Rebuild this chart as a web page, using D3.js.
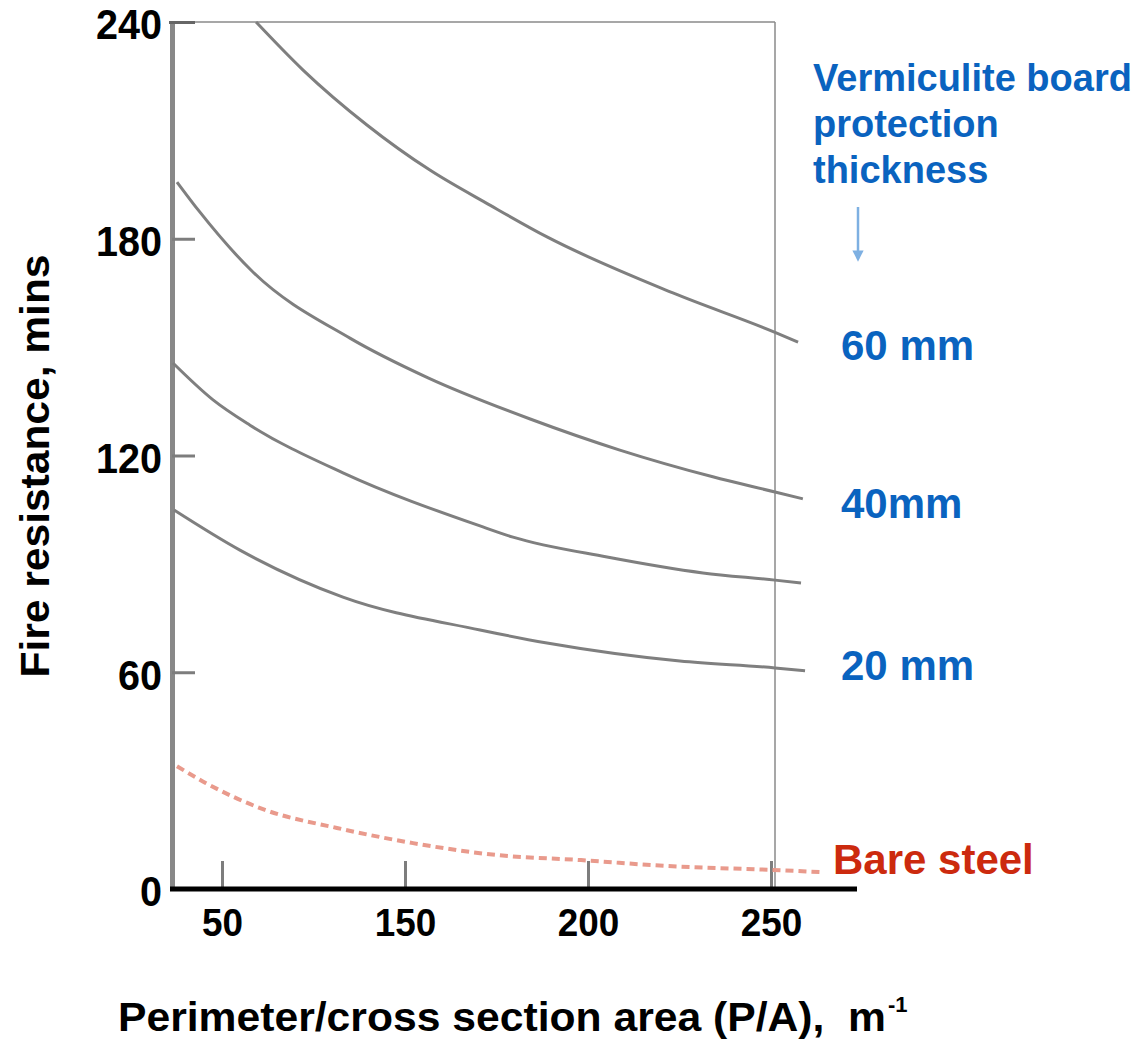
<!DOCTYPE html>
<html>
<head>
<meta charset="utf-8">
<script src="https://cdn.jsdelivr.net/npm/d3@7"></script>
<style>
  body { margin: 0; background: #fff; }
  svg text { font-family: "Liberation Sans", Arial, Helvetica, sans-serif; font-weight: bold; }
</style>
</head>
<body>
<svg id="chart" width="1147" height="1040"></svg>
<script>
// ---------------- data ----------------
// x is P/A (m-1) as labelled on the axis, y is fire resistance (mins)
var xTicks = [50, 150, 200, 250]
var yTicks = [0, 60, 120, 180, 240]

var board60 = [[68.6,240.0],[94.3,226.7],[129.2,211.5],[156.8,199.0],[173.2,189.3],[188.8,180.5],[223.2,165.0],[251.1,154.1],[257.4,151.4]]
var board40 = [[25.4,195.7],[37.4,187.7],[66.9,170.8],[119.9,152.5],[156.3,141.5],[184.2,130.1],[208.7,121.5],[234.1,114.1],[251.1,109.9],[258.7,108.0]]
var board30 = [[23.2,145.6],[45.1,135.4],[65.3,128.4],[116.1,115.2],[170.5,100.5],[179.5,97.4],[205.2,91.9],[231.4,87.5],[251.1,85.5],[258.2,84.7]]
var board20 = [[23.8,104.9],[59.8,93.8],[116.1,80.8],[170.5,71.7],[188.8,68.1],[225.1,63.1],[251.1,61.2],[259.3,60.4]]
var bareSteel = [[25.4,34.0],[41.3,29.3],[73.5,21.9],[112.8,16.9],[152.2,12.7],[175.1,9.4],[198.1,8.0],[221.0,6.4],[249.7,5.3],[263.4,4.7]]

var curves = [board60, board40, board30, board20]

// ---------------- chart ----------------
var svg = d3.select("#chart")

// the printed axis is not evenly spaced (50,150,200,250 at equal steps)
var x = d3.scaleLinear().domain(xTicks).range([222, 405, 588, 771])
var y = d3.scaleLinear().domain([0, 240]).range([889, 22])

// frame: top and right thin lines
svg.append("line")
    .attr("x1", 172).attr("x2", 775)
    .attr("y1", y(240)).attr("y2", y(240))
    .attr("stroke", "#8a8a8a").attr("stroke-width", 1.5)
svg.append("line")
    .attr("x1", 775).attr("x2", 775)
    .attr("y1", y(240)).attr("y2", y(0))
    .attr("stroke", "#8a8a8a").attr("stroke-width", 1.5)

// y axis
var yAxis = svg.append("g")
    .attr("transform", "translate(172,0)")
    .call(d3.axisLeft(y).tickValues(yTicks).tickSizeInner(-23).tickSizeOuter(0).tickPadding(10))
yAxis.select(".domain").attr("stroke", "#888").attr("stroke-width", 5)
yAxis.selectAll(".tick line").attr("stroke", "#7d7d7d").attr("stroke-width", 3)
    .filter(function(d){ return d == 0 }).remove()
yAxis.selectAll(".tick line").filter(function(d){ return d == 240 }).attr("stroke", "#666").attr("x1", -3)
yAxis.selectAll(".tick text")
    .attr("fill", "#000")
    .attr("dy", "0.4em")
    .attr("textLength", function(d){ return String(d).length * 22 })
    .attr("lengthAdjust", "spacingAndGlyphs")
    .style("font-size", "42px")

// x axis
var xAxis = svg.append("g")
    .attr("transform", "translate(0," + y(0) + ")")
    .call(d3.axisBottom(x).tickValues(xTicks).tickSizeInner(-28).tickSizeOuter(0).tickPadding(19))
xAxis.select(".domain").remove()
xAxis.selectAll(".tick line").attr("stroke", "#7d7d7d").attr("stroke-width", 3)
xAxis.selectAll(".tick text")
    .attr("fill", "#000")
    .attr("textLength", function(d){ return String(d).length * 20.5 })
    .attr("lengthAdjust", "spacingAndGlyphs")
    .style("font-size", "39px")
xAxis.append("line")
    .attr("x1", 170).attr("x2", 857)
    .attr("y1", 0).attr("y2", 0)
    .attr("stroke", "#000").attr("stroke-width", 5)

// curves
var line = d3.line()
    .x(function(d){ return x(d[0]) })
    .y(function(d){ return y(d[1]) })
    .curve(d3.curveMonotoneX)

svg.selectAll(".curve")
    .data(curves)
    .enter()
    .append("path")
    .attr("class", "curve")
    .attr("d", line)
    .attr("fill", "none")
    .attr("stroke", "#7f7f7f")
    .attr("stroke-width", 3)

svg.append("path")
    .datum(bareSteel)
    .attr("d", line)
    .attr("fill", "none")
    .attr("stroke", "#e99a8c")
    .attr("stroke-width", 4)
    .attr("stroke-dasharray", "8,5")

// labels
var blue = "#0a63bf"
var legendLines = ["Vermiculite board", "protection", "thickness"]
svg.selectAll(".leg")
    .data(legendLines)
    .enter()
    .append("text")
    .attr("class", "leg")
    .attr("x", 813)
    .attr("y", function(d, i){ return 91 + i * 46 })
    .attr("fill", blue)
    .style("font-size", "38px")
    .text(function(d){ return d })

// arrow
var defs = svg.append("defs")
defs.append("marker")
    .attr("id", "arrowhead")
    .attr("viewBox", "0 0 10 10")
    .attr("refX", 5).attr("refY", 5)
    .attr("markerWidth", 4.5).attr("markerHeight", 4.5)
    .attr("orient", "auto")
    .append("path")
    .attr("d", "M0,0 L10,5 L0,10 Z")
    .attr("fill", "#7eb0e2")
svg.append("line")
    .attr("x1", 858).attr("x2", 858)
    .attr("y1", 207).attr("y2", 256)
    .attr("stroke", "#7eb0e2").attr("stroke-width", 2.5)
    .attr("marker-end", "url(#arrowhead)")

var seriesNames = ["60 mm", "40mm", "20 mm"]
var seriesY = [360, 518, 680]
svg.selectAll(".sname")
    .data(seriesNames)
    .enter()
    .append("text")
    .attr("class", "sname")
    .attr("x", 841)
    .attr("y", function(d, i){ return seriesY[i] })
    .attr("fill", blue)
    .style("font-size", "42px")
    .text(function(d){ return d })

svg.append("text")
    .attr("x", 833).attr("y", 874)
    .attr("fill", "#cc2a0e")
    .style("font-size", "42px")
    .text("Bare steel")

// axis titles
svg.append("text")
    .attr("transform", "translate(49,466) rotate(-90)")
    .attr("text-anchor", "middle")
    .attr("fill", "#000")
    .attr("textLength", 423)
    .attr("lengthAdjust", "spacingAndGlyphs")
    .style("font-size", "41px")
    .text("Fire resistance, mins")

svg.append("text")
    .attr("x", 118).attr("y", 1031)
    .attr("fill", "#000")
    .style("font-size", "41px")
    .style("white-space", "pre")
    .attr("textLength", 768)
    .attr("lengthAdjust", "spacingAndGlyphs")
    .text("Perimeter/cross section area (P/A),  m")
svg.append("text")
    .attr("x", 888).attr("y", 1012)
    .attr("fill", "#000")
    .style("font-size", "22px")
    .text("-1")
</script>
</body>
</html>
